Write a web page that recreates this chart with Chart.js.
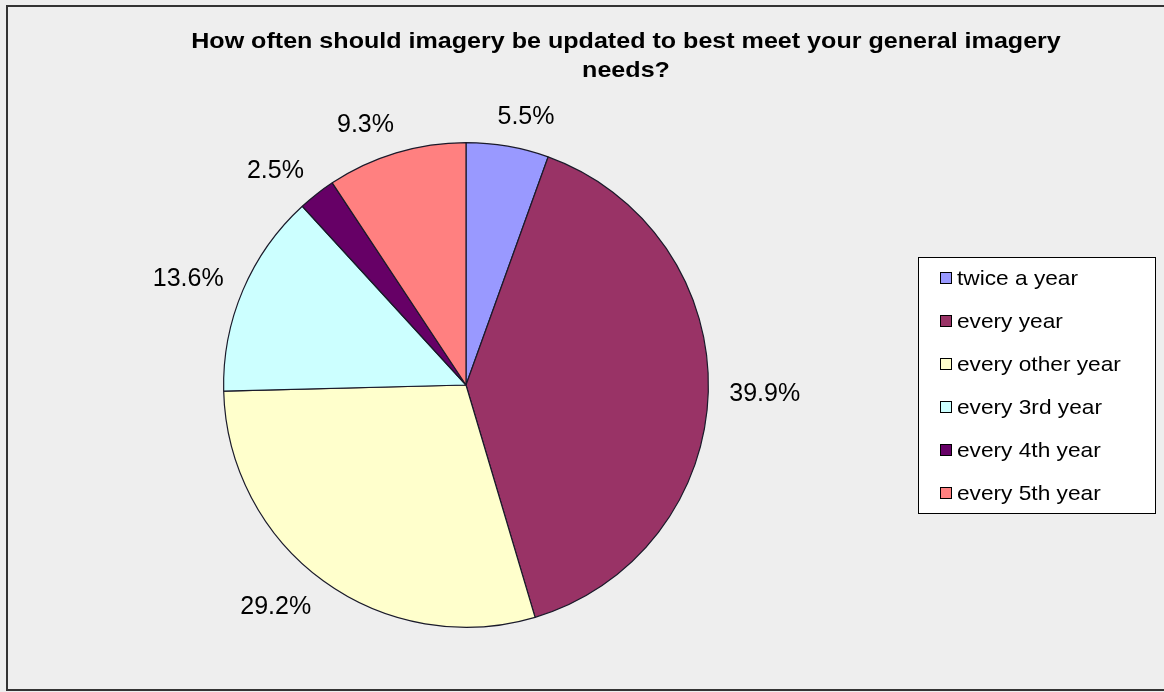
<!DOCTYPE html>
<html>
<head>
<meta charset="utf-8">
<script src="https://cdn.jsdelivr.net/npm/chart.js@4/dist/chart.umd.min.js"></script>
<style>
  html, body { margin: 0; padding: 0; background: #eeeeee; }
  #pie { display: block; }
</style>
</head>
<body>
<canvas id="pie" width="1164" height="692"></canvas>
<script>
"use strict";

// chart data
const titleLines = ['How often should imagery be updated to best meet your general imagery', 'needs?'];
const categories = ['twice a year', 'every year', 'every other year', 'every 3rd year', 'every 4th year', 'every 5th year'];
const shares = [5.5, 39.9, 29.2, 13.6, 2.5, 9.3];
const sliceColors = ['#9999ff', '#993366', '#ffffcc', '#ccffff', '#660066', '#ff8080'];

const FONT = '"Liberation Sans", Arial, sans-serif';

// grey panel with the dark frame, drawn under the pie
const panelPlugin = {
  id: 'panel',
  beforeDraw(chart) {
    const ctx = chart.ctx;
    ctx.save();
    ctx.fillStyle = '#eeeeee';
    ctx.fillRect(0, 0, chart.width, chart.height);
    ctx.strokeStyle = '#333333';
    ctx.lineWidth = 2;
    ctx.strokeRect(7, 6, chart.width + 20, chart.height - 8);
    ctx.restore();
  }
};

// title, outside percentage labels and the boxed legend
const decorPlugin = {
  id: 'decor',
  afterDraw(chart) {
    const ctx = chart.ctx;
    ctx.save();

    // title: the original face is a wide bold sans, stretch it a bit sideways
    ctx.fillStyle = '#000';
    ctx.textAlign = 'center';
    ctx.textBaseline = 'middle';
    ctx.font = 'bold 22px ' + FONT;
    const stretch = 1.14;
    titleLines.forEach((line, i) => {
      ctx.save();
      ctx.translate(626, 42 + i * 29);
      ctx.scale(stretch, 1);
      ctx.fillText(line, 0, 0);
      ctx.restore();
    });

    // percentage labels outside each slice
    ctx.font = '25px ' + FONT;
    const arcs = chart.getDatasetMeta(0).data;
    arcs.forEach((arc, i) => {
      const mid = (arc.startAngle + arc.endAngle) / 2;
      const ux = Math.cos(mid);
      const uy = Math.sin(mid);
      const text = shares[i].toFixed(1) + '%';
      const w = ctx.measureText(text).width;
      const h = 19;
      const r = arc.outerRadius + 21;
      const k = Math.max(-1, Math.min(1, ux * 3));
      const x = arc.x + ux * r + k * w / 2;
      const y = arc.y + uy * r + uy * h / 2;
      ctx.fillText(text, x, y + 1);
    });

    // legend
    ctx.fillStyle = '#ffffff';
    ctx.fillRect(918, 257, 237, 256);
    ctx.strokeStyle = '#000';
    ctx.lineWidth = 1;
    ctx.strokeRect(918.5, 257.5, 237, 256);
    ctx.font = '21px ' + FONT;
    ctx.textAlign = 'left';
    categories.forEach((name, i) => {
      const cy = 278 + i * 43;
      ctx.fillStyle = sliceColors[i];
      ctx.fillRect(940, cy - 5, 11, 11);
      ctx.strokeRect(940.5, cy - 5.5, 11, 11);
      ctx.fillStyle = '#000';
      ctx.save();
      ctx.translate(957, cy + 1);
      ctx.scale(1.08, 1);
      ctx.fillText(name, 0, 0);
      ctx.restore();
    });

    ctx.restore();
  }
};

new Chart(document.getElementById('pie'), {
  type: 'pie',
  data: {
    labels: categories,
    datasets: [{
      data: shares,
      backgroundColor: sliceColors,
      borderColor: '#1a1a2a',
      borderWidth: 1.2
    }]
  },
  options: {
    responsive: false,
    animation: false,
    layout: {
      padding: { left: 223, right: 455, top: 142, bottom: 64 }
    },
    plugins: {
      legend: { display: false },
      title: { display: false },
      tooltip: { enabled: false }
    }
  },
  plugins: [panelPlugin, decorPlugin]
});
</script>
</body>
</html>
